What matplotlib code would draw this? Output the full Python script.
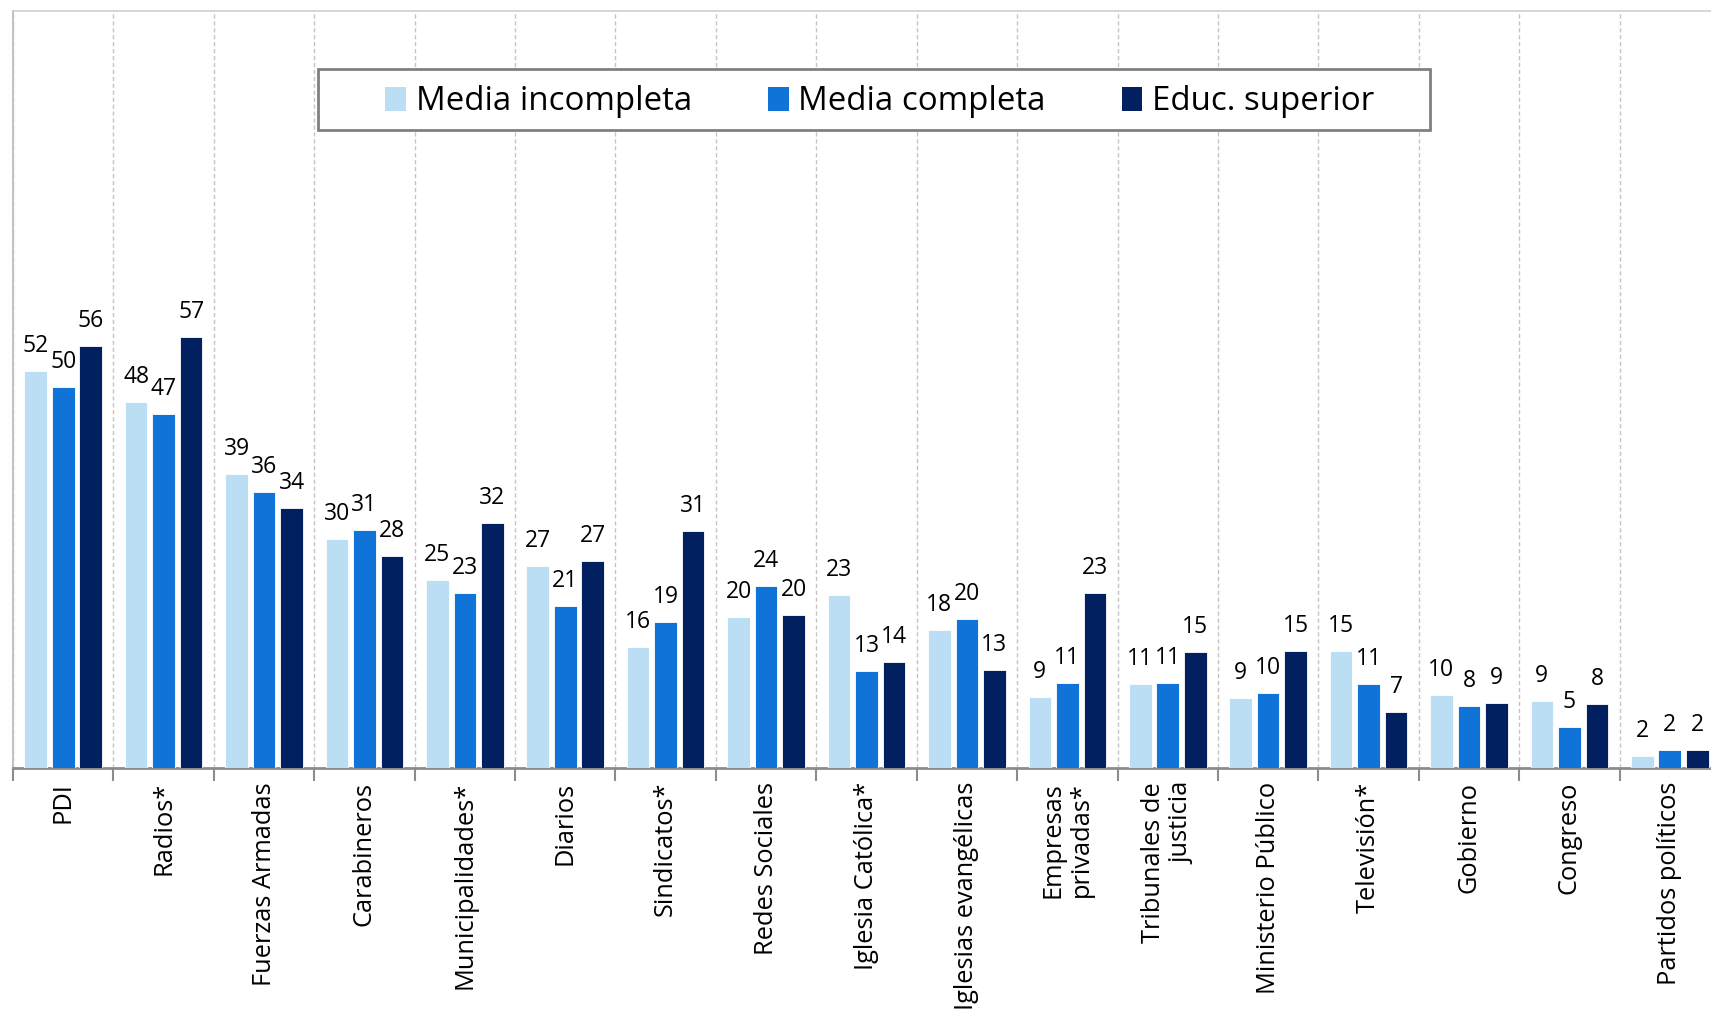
import numpy as np
import matplotlib
matplotlib.use('Agg')
import matplotlib.pyplot as plt
from matplotlib.patches import Patch, Rectangle

plt.rcParams['font.family'] = ['Open Sans', 'DejaVu Sans']

categories = ['PDI', 'Radios*', 'Fuerzas Armadas', 'Carabineros', 'Municipalidades*',
              'Diarios', 'Sindicatos*', 'Redes Sociales', 'Iglesia Católica*',
              'Iglesias evangélicas', 'Empresas\nprivadas*', 'Tribunales de\njusticia',
              'Ministerio Público', 'Televisión*', 'Gobierno', 'Congreso', 'Partidos políticos']
series = ['Media incompleta', 'Media completa', 'Educ. superior']
media_incompleta = [52.4, 48.4, 38.9, 30.3, 24.9, 26.7, 16.0, 19.9, 22.8, 18.2, 9.4, 11.1, 9.2, 15.4, 9.7, 8.8, 1.6]
media_completa = [50.3, 46.7, 36.4, 31.4, 23.1, 21.4, 19.3, 24.1, 12.8, 19.7, 11.2, 11.2, 9.9, 11.1, 8.2, 5.4, 2.4]
educ_superior = [55.8, 56.9, 34.3, 28.0, 32.3, 27.4, 31.3, 20.2, 14.0, 13.0, 23.1, 15.3, 15.4, 7.4, 8.6, 8.4, 2.4]
colors = ['#BBDEF4', '#0F73D8', '#02205F']

fig = plt.figure(figsize=(17.11, 10.14), dpi=100)
ax = fig.add_axes([13 / 1711, 1 - 768 / 1014, (1720 - 13) / 1711, (768 - 11) / 1014])

x = np.arange(len(categories))
w = 0.225
step = 0.274
for i, (vals, name) in enumerate(zip([media_incompleta, media_completa, educ_superior], series)):
    pos = x + (i - 1) * step
    ax.bar(pos, vals, width=w, color=colors[i], edgecolor='white', linewidth=0.6, zorder=3)
    for px, v in zip(pos, vals):
        ax.annotate(f"{v:.0f}", (px, v), xytext=(0, 19), textcoords='offset pixels',
                    ha='center', va='baseline', fontsize=16.5, color='black', zorder=4)

ax.set_xlim(-0.5, 16.5)
ax.set_ylim(0, 100)
ax.set_yticks([])
ax.set_xticks(x)
ax.set_xticklabels(categories, rotation=90, fontsize=18.3, va='top', ha='center')
for lab in ax.get_xticklabels():
    lab.set_multialignment('right')
ax.set_xticks(np.arange(-0.5, 17, 1), minor=True)
ax.tick_params(axis='x', which='major', length=0, pad=10)
ax.tick_params(axis='x', which='minor', length=9, width=1.5, color='#8C8C8C', direction='out')
ax.grid(axis='x', which='minor', linestyle=(0, (3, 2)), color='#C4C4C4', linewidth=1, zorder=0)
ax.grid(axis='x', which='major', visible=False)

ax.spines['right'].set_visible(False)
ax.spines['top'].set_color('#CFCFCF')
ax.spines['top'].set_linewidth(1.2)
ax.spines['left'].set_color('#C4C4C4')
ax.spines['left'].set_linewidth(1.5)
ax.spines['bottom'].set_color('#8C8C8C')
ax.spines['bottom'].set_linewidth(2)

# legend box drawn separately so the padding matches
box = Rectangle((317.5 / 1711, 1 - 130 / 1014), (1429.5 - 317.5) / 1711, 61 / 1014,
                transform=fig.transFigure, facecolor='white', edgecolor='#808080',
                linewidth=2, zorder=5)
fig.patches.append(box)
handles = [Patch(facecolor=c, edgecolor='none') for c in colors]
leg = fig.legend(handles, series, loc='center', bbox_to_anchor=(880 / 1711, 1 - 102 / 1014),
                 ncol=3, frameon=False, fontsize=23.8, handlelength=0.62, handleheight=0.72,
                 handletextpad=0.3, columnspacing=2.3)
leg.set_zorder(6)

fig.savefig('out.png', dpi=100)
